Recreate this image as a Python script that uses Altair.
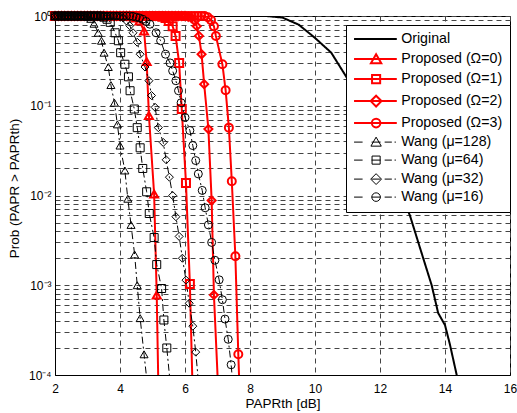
import altair as alt
import pandas as pd

FONT = "Liberation Sans"

SERIES = ["Original", "Proposed (Ω=0)", "Proposed (Ω=1)", "Proposed (Ω=2)", "Proposed (Ω=3)",
          "Wang (μ=128)", "Wang (μ=64)", "Wang (μ=32)", "Wang (μ=16)"]
COLORS = ["#000000", "#ff0000", "#ff0000", "#ff0000", "#ff0000",
          "#000000", "#000000", "#000000", "#000000"]
DASHES = [[1, 0], [1, 0], [1, 0], [1, 0], [1, 0],
          [7, 3, 2, 3], [7, 3, 2, 3], [7, 3, 2, 3], [7, 3, 2, 3]]
WIDTHS = [2, 2, 2, 2, 2, 1, 1, 1, 1]
SHAPES = ["circle", "triangle-up", "square", "diamond", "circle",
          "triangle-up", "square", "diamond", "circle"]

# legend glyphs: line + marker
L_SOLID = "M-4.9,0H4.6"
L_DASH = "M-4.9,0H-3.0M-1.0,0H1.0M1.9,0H3.5M4.1,0H4.4"
M_TRI = "M0,-1.1L1.15,0.9L-1.15,0.9Z"
M_SQR = "M-0.9,-0.9H0.9V0.9H-0.9Z"
M_DIA = "M0,-1.2L1.2,0L0,1.2L-1.2,0Z"
M_CIR = "M0.95,0A0.95,0.95,0,1,1,-0.95,0A0.95,0.95,0,1,1,0.95,0Z"
LEGEND_SHAPES = [L_SOLID, L_SOLID + M_TRI, L_SOLID + M_SQR, L_SOLID + M_DIA, L_SOLID + M_CIR,
                 L_DASH + M_TRI, L_DASH + M_SQR, L_DASH + M_DIA, L_DASH + M_CIR]

X_TICKS = [2, 4, 6, 8, 10, 12, 14, 16]
Y_TICKS = [0.0001, 0.0002, 0.0003, 0.0004, 0.0005, 0.0006, 0.0007, 0.0008, 0.0009,
           0.001, 0.002, 0.003, 0.004, 0.005, 0.006, 0.007, 0.008, 0.009,
           0.01, 0.02, 0.03, 0.04, 0.05, 0.06, 0.07, 0.08, 0.09,
           0.1, 0.2, 0.3, 0.4, 0.5, 0.6, 0.7, 0.8, 0.9, 1]

# x positions of the points sitting on the Prob = 1 plateau
TOP_X = [2.0, 2.1, 2.2, 2.3, 2.4, 2.5, 2.6, 2.7, 2.8, 2.9, 3.0, 3.1, 3.2, 3.3, 3.4, 3.5,
         3.6, 3.7, 3.8, 3.9, 4.0, 4.1, 4.2, 4.3, 4.4, 4.5, 4.6, 4.7, 4.8, 4.9, 5.0, 5.1,
         5.2, 5.3, 5.4, 5.5, 5.6, 5.7, 5.8, 5.9, 6.0, 6.1, 6.2, 6.3, 6.4, 6.5, 6.6]

ORIG_X = [2.0, 8.5, 9.0, 9.5, 10.0, 10.5, 11.0, 11.5, 12.0, 12.5, 12.92, 13.33, 13.59,
          13.79, 14.0, 14.15, 14.36, 14.45]
ORIG_Y = [1.0, 1.0, 0.96, 0.8, 0.57, 0.39, 0.2, 0.09, 0.035, 0.014, 0.006, 0.002, 0.001,
          0.00049, 0.00036, 0.00022, 0.0001, 0.00007]

P0_END = 4.3
P0_X = [4.4, 4.5, 4.6, 4.74, 4.82, 4.89, 5.05, 5.13, 5.2]
P0_Y = [0.98, 0.95, 0.88, 0.68, 0.31, 0.078, 0.0104, 0.00078, 0.00003]

P1_END = 5.2
P1_X = [5.3, 5.4, 5.5, 5.62, 5.71, 5.82, 5.9, 6.03, 6.15, 6.25]
P1_Y = [0.98, 0.95, 0.88, 0.77, 0.6, 0.3, 0.092, 0.0138, 0.00103, 0.00004]

P2_END = 6.0
P2_X = [6.1, 6.2, 6.3, 6.36, 6.43, 6.51, 6.59, 6.72, 6.82, 6.89, 7.05]
P2_Y = [0.98, 0.95, 0.88, 0.77, 0.6, 0.375, 0.174, 0.055, 0.0088, 0.00078, 0.00004]

P3_END = 6.6
P3_X = [6.7, 6.8, 6.89, 6.95, 7.15, 7.25, 7.35, 7.44, 7.55, 7.64, 7.7]
P3_Y = [0.97, 0.9, 0.77, 0.6, 0.29, 0.149, 0.057, 0.0144, 0.0021, 0.00017, 0.00004]

W128_END = 2.9
W128_X = [3.0, 3.1, 3.2, 3.33, 3.43, 3.51, 3.64, 3.72, 3.83, 3.92, 4.0, 4.15, 4.24, 4.34,
          4.45, 4.53, 4.62, 4.74, 4.9]
W128_Y = [0.98, 0.93, 0.82, 0.65, 0.53, 0.39, 0.27, 0.17, 0.108, 0.062, 0.036, 0.019,
          0.0092, 0.0047, 0.0022, 0.001, 0.00043, 0.00017, 0.00005]

W64_END = 3.4
W64_X = [3.5, 3.6, 3.7, 3.85, 3.95, 4.02, 4.15, 4.26, 4.31, 4.44, 4.53, 4.62, 4.7, 4.82,
         4.9, 5.05, 5.13, 5.28, 5.35, 5.44, 5.6]
W64_Y = [0.97, 0.92, 0.85, 0.65, 0.53, 0.39, 0.29, 0.21, 0.147, 0.092, 0.057, 0.034, 0.02,
         0.011, 0.0063, 0.0034, 0.0017, 0.00092, 0.00041, 0.0002, 0.00005]

W32_END = 3.9
W32_X = [4.0, 4.1, 4.2, 4.3, 4.4, 4.53, 4.62, 4.77, 4.89, 4.97, 5.08, 5.18, 5.33, 5.42,
         5.52, 5.62, 5.72, 5.82, 5.92, 6.03, 6.13, 6.24, 6.33, 6.45]
W32_Y = [0.98, 0.95, 0.88, 0.78, 0.65, 0.51, 0.375, 0.27, 0.19, 0.13, 0.096, 0.057, 0.039,
         0.025, 0.016, 0.01, 0.0058, 0.0035, 0.002, 0.00114, 0.00063, 0.00035, 0.00018, 0.00006]

W16_END = 4.3
W16_X = [4.4, 4.5, 4.6, 4.7, 4.8, 4.92, 5.11, 5.25, 5.4, 5.54, 5.62, 5.72, 5.8, 5.88, 6.0,
         6.15, 6.24, 6.33, 6.41, 6.53, 6.62, 6.72, 6.82, 6.92, 7.05, 7.15, 7.23, 7.33, 7.42, 7.5]
W16_Y = [0.99, 0.97, 0.95, 0.92, 0.87, 0.81, 0.65, 0.53, 0.375, 0.3, 0.245, 0.19, 0.147,
         0.108, 0.074, 0.053, 0.036, 0.0245, 0.0174, 0.0114, 0.0073, 0.0047, 0.003, 0.0019,
         0.00115, 0.00069, 0.00042, 0.00025, 0.00013, 0.00006]

rows = []


def add(name, xs, ys, end=None):
    if end is not None:
        for x in TOP_X:
            if x <= end:
                rows.append({"series": name, "x": x, "y": 1.0})
    for x, y in zip(xs, ys):
        rows.append({"series": name, "x": x, "y": y})


add(SERIES[0], ORIG_X, ORIG_Y)
add(SERIES[1], P0_X, P0_Y, P0_END)
add(SERIES[2], P1_X, P1_Y, P1_END)
add(SERIES[3], P2_X, P2_Y, P2_END)
add(SERIES[4], P3_X, P3_Y, P3_END)
add(SERIES[5], W128_X, W128_Y, W128_END)
add(SERIES[6], W64_X, W64_Y, W64_END)
add(SERIES[7], W32_X, W32_Y, W32_END)
add(SERIES[8], W16_X, W16_Y, W16_END)
df = pd.DataFrame(rows)

label_expr = ("datum.value == 1 ? '10⁰' : datum.value == 0.1 ? '10⁻¹' : "
              "datum.value == 0.01 ? '10⁻²' : datum.value == 0.001 ? '10⁻³' : "
              "datum.value == 0.0001 ? '10⁻⁴' : ''")

x_enc = alt.X("x:Q", scale=alt.Scale(domain=[2, 16], nice=False, zero=False),
              axis=alt.Axis(values=X_TICKS, title="PAPRth [dB]", labelFlush=False,
                            labelPadding=8, titleY=32, titleBaseline="alphabetic"))
y_enc = alt.Y("y:Q", scale=alt.Scale(type="log", domain=[0.0001, 1], nice=False),
              axis=alt.Axis(values=Y_TICKS, labelExpr=label_expr, title="Prob (PAPR > PAPRth)",
                            labelPadding=4, titleX=-37, titleY=172, titleAngle=270,
                            titleBaseline="alphabetic", titleAlign="center", labelOverlap=False))

color_scale = alt.Scale(domain=SERIES, range=COLORS)
width_scale = alt.Scale(type="ordinal", domain=SERIES, range=WIDTHS)

base = alt.Chart(df)

lines = base.mark_line(clip=True).encode(
    x=x_enc, y=y_enc,
    color=alt.Color("series:N", scale=color_scale, legend=None),
    strokeDash=alt.StrokeDash("series:N", scale=alt.Scale(type="ordinal", domain=SERIES, range=DASHES),
                              legend=None),
    strokeWidth=alt.StrokeWidth("series:N", scale=width_scale, legend=None),
    order="x:Q",
)

points = base.transform_filter(
    "datum.series != 'Original' && datum.y >= 0.0001"
).mark_point(filled=False, size=64, opacity=1).encode(
    x=x_enc, y=y_enc,
    color=alt.Color("series:N", scale=color_scale, legend=None),
    shape=alt.Shape("series:N", scale=alt.Scale(domain=SERIES, range=SHAPES), legend=None),
    strokeWidth=alt.StrokeWidth("series:N", scale=width_scale, legend=None),
)

leg = dict(title=None, orient="none", legendX=291, legendY=9, fillColor="white",
           strokeColor="black", padding=7, labelFont=FONT, labelFontSize=14.2,
           labelColor="black", symbolSize=81, symbolOffset=16, labelOffset=18,
           rowPadding=3)

legend_layer = base.transform_filter("false").mark_point(filled=False, opacity=1).encode(
    x=x_enc, y=y_enc,
    color=alt.Color("series:N", scale=color_scale, legend=alt.Legend(**leg)),
    shape=alt.Shape("series:N", scale=alt.Scale(domain=SERIES, range=LEGEND_SHAPES),
                    legend=alt.Legend(**leg)),
    strokeWidth=alt.StrokeWidth("series:N", scale=width_scale, legend=alt.Legend(**leg)),
)

chart = alt.layer(lines, points, legend_layer).resolve_scale(
    color="independent", shape="independent", strokeWidth="independent"
).properties(
    width=455, height=359,
    autosize=alt.AutoSizeParams(type="none"),
    padding={"left": 55, "top": 16, "right": 7, "bottom": 38},
    background="white",
).configure_view(
    stroke="black", strokeWidth=1
).configure_axis(
    grid=True, gridDash=[5, 4], gridColor="#444444", gridWidth=1,
    ticks=False, domainColor="black", domainWidth=1,
    labelFont=FONT, labelFontSize=12, labelColor="black",
    titleFont=FONT, titleFontSize=13.5, titleFontWeight="normal", titleColor="black",
)

chart.save("out.html", embed_options={"renderer": "svg", "actions": False})
